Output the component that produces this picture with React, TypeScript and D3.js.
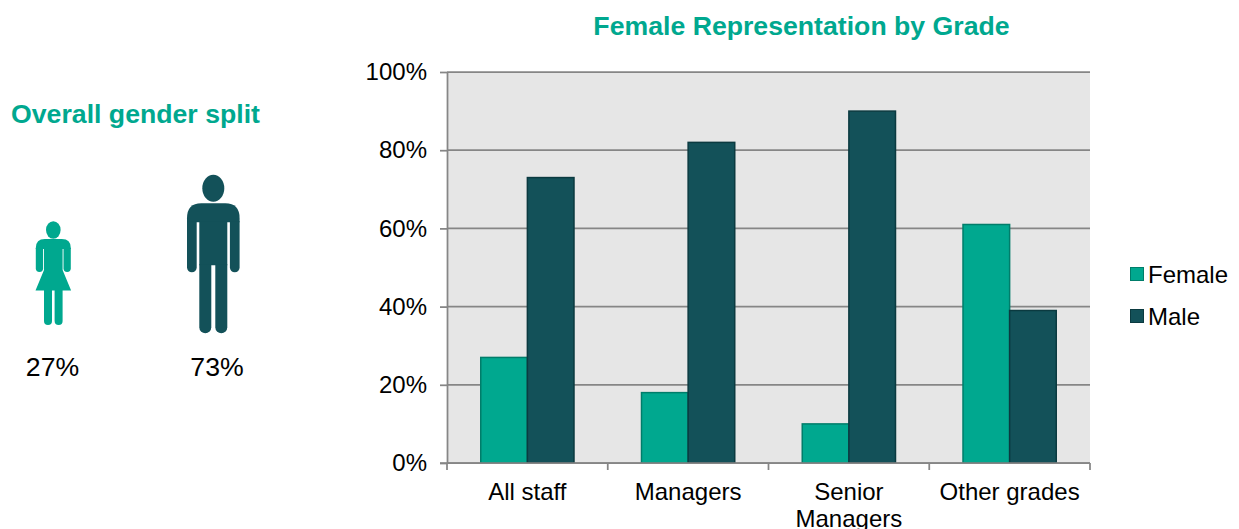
// App.tsx
import React, { useEffect, useRef } from 'react';
import * as d3 from 'd3';

const grades = ['All staff', 'Managers', 'Senior Managers', 'Other grades'];
const female = [27, 18, 10, 61];
const male = [73, 82, 90, 39];
const yTicks = [0, 20, 40, 60, 80, 100];
const seriesNames = ['Female', 'Male'];
const overall = [27, 73];

const width = 1239;
const height = 529;
const colors = {
  female: '#00a88f',
  femaleEdge: '#007d6a',
  male: '#135159',
  maleEdge: '#0b3a40',
  plot: '#e6e6e6',
  axis: '#868686',
  text: '#000000',
};
const font = '"Liberation Sans", Arial, sans-serif';

// rounded-bottom limb, x0..x1 wide, from y0 down to y1
const limb = (x0: number, x1: number, y0: number, y1: number) => {
  const r = (x1 - x0) / 2;
  return `M${x0},${y0}L${x0},${y1 - r}A${r},${r} 0 0 0 ${x1},${y1 - r}L${x1},${y0}Z`;
};

// local coordinates, origin at the figure's centre line, top of shoulders
const femaleBody = [
  'M-17.5,9Q-17.5,0 -8.5,0L8.5,0Q17.5,0 17.5,9L17.5,10L-17.5,10Z',
  'M-9.3,9L9.3,9L9.3,31L17.8,51.5L-17.8,51.5L-9.3,31Z',
  limb(-17.5, -10.2, 9, 33),
  limb(10.2, 17.5, 9, 33),
  limb(-9.3, -1.3, 50, 86),
  limb(1.3, 9.3, 50, 86),
];

const maleBody = [
  'M-26.3,15Q-26.3,0 -12,0L12,0Q26.3,0 26.3,15L26.3,19L-26.3,19Z',
  'M-14,18L14,18L14,62L-14,62Z',
  limb(-26.3, -16.6, 18, 69),
  limb(16.6, 26.3, 18, 69),
  limb(-14, -2, 61, 130),
  limb(2, 14, 61, 130),
];

export default function App() {
  const svgRef = useRef<SVGSVGElement>(null);

  useEffect(() => {
    if (!svgRef.current) return;
    const svg = d3.select(svgRef.current);
    svg.selectAll('*').remove();

    const margin = { top: 72, right: 149, bottom: 66, left: 447 };
    const iWidth = width - margin.left - margin.right;
    const iHeight = height - margin.top - margin.bottom;

    const x = d3.scaleBand<string>().domain(grades).range([0, iWidth]).paddingInner(0.42).paddingOuter(0.21);
    const y = d3.scaleLinear().domain([0, 100]).range([iHeight, 0]);

    svg.append('text').attr('x', 801.5).attr('y', 35).attr('text-anchor', 'middle').attr('fill', colors.female)
      .style('font-family', font).style('font-weight', 'bold').style('font-size', '26.67px').text('Female Representation by Grade');
    svg.append('text').attr('x', 135.5).attr('y', 123).attr('text-anchor', 'middle').attr('fill', colors.female)
      .style('font-family', font).style('font-weight', 'bold').style('font-size', '26.67px').text('Overall gender split');

    // figures
    const fig = svg.append('g');
    const fg = fig.append('g').attr('transform', 'translate(53.3,239)').attr('fill', colors.female);
    fg.append('ellipse').attr('cx', 0).attr('cy', -9).attr('rx', 7.3).attr('ry', 8.7);
    fg.selectAll('path').data(femaleBody).join('path').attr('d', d => d);
    const mg = fig.append('g').attr('transform', 'translate(213.3,203.3)').attr('fill', colors.male);
    mg.append('ellipse').attr('cx', 0).attr('cy', -15).attr('rx', 11).attr('ry', 13.5);
    mg.selectAll('path').data(maleBody).join('path').attr('d', d => d);

    fig.append('text').attr('x', 52.5).attr('y', 376).text(`${overall[0]}%`);
    fig.append('text').attr('x', 217).attr('y', 376).text(`${overall[1]}%`);
    fig.selectAll('text').attr('text-anchor', 'middle').attr('fill', colors.text)
      .style('font-family', font).style('font-size', '26.67px');

    const g = svg.append('g').attr('transform', `translate(${margin.left},${margin.top})`);
    g.append('rect').attr('width', iWidth).attr('height', iHeight).attr('fill', colors.plot);

    // gridlines
    g.append('g').selectAll('line').data(yTicks).join('line')
      .attr('x1', 0).attr('x2', iWidth).attr('y1', d => y(d)).attr('y2', d => y(d))
      .attr('stroke', colors.axis).attr('stroke-width', 1.75);

    // bars
    const barW = x.bandwidth() / 2;
    const bars = (vals: number[], fill: string, edge: string, off: number) => {
      g.append('g').selectAll('rect').data(vals).join('rect')
        .attr('x', (_, i) => (x(grades[i]) as number) + off)
        .attr('y', d => y(d))
        .attr('width', barW)
        .attr('height', d => iHeight - y(d))
        .attr('fill', fill).attr('stroke', edge).attr('stroke-width', 1.5);
    };
    bars(female, colors.female, colors.femaleEdge, 0);
    bars(male, colors.male, colors.maleEdge, barW);

    // axes
    const yAxis = d3.axisLeft(y).tickValues(yTicks).tickFormat(d => `${d}%`).tickSize(7).tickPadding(13).tickSizeOuter(0);
    const yg = g.append('g').call(yAxis);
    yg.select('.domain').attr('stroke', colors.axis).attr('stroke-width', 1.75);
    yg.selectAll('.tick line').attr('stroke', colors.axis).attr('stroke-width', 1.75);
    yg.selectAll('text').attr('fill', colors.text).style('font-family', font).style('font-size', '24px');

    const step = iWidth / grades.length;
    const xg = g.append('g').attr('transform', `translate(0,${iHeight})`);
    xg.append('line').attr('x1', -7).attr('x2', iWidth).attr('stroke', colors.axis).attr('stroke-width', 1.75);
    xg.selectAll('line.sep').data(d3.range(grades.length + 1)).join('line').attr('class', 'sep')
      .attr('x1', d => d * step).attr('x2', d => d * step).attr('y1', 0).attr('y2', 7)
      .attr('stroke', colors.axis).attr('stroke-width', 1.75);

    const labels = xg.selectAll('text').data(grades).join('text')
      .attr('text-anchor', 'middle').attr('fill', colors.text)
      .style('font-family', font).style('font-size', '24px');
    labels.each(function (d) {
      const cx = (x(d) as number) + x.bandwidth() / 2;
      const parts = d === 'Senior Managers' ? d.split(' ') : [d];
      d3.select(this).selectAll('tspan').data(parts).join('tspan')
        .attr('x', cx).attr('y', (_, i) => 37 + i * 27).text(t => t);
    });

    // legend
    const leg = svg.append('g').attr('transform', 'translate(1130,267)');
    const legFill = [colors.female, colors.male];
    const legEdge = [colors.femaleEdge, colors.maleEdge];
    seriesNames.forEach((name, i) => {
      const row = leg.append('g').attr('transform', `translate(0,${i * 42})`);
      row.append('rect').attr('x', 0.5).attr('y', 0.5).attr('width', 13).attr('height', 13)
        .attr('fill', legFill[i]).attr('stroke', legEdge[i]);
      row.append('text').attr('x', 18).attr('y', 16).attr('fill', colors.text)
        .style('font-family', font).style('font-size', '24px').text(name);
    });
  }, []);

  return <svg ref={svgRef} width={width} height={height} viewBox={`0 0 ${width} ${height}`} style={{ position: 'absolute', left: 0, top: 0, background: '#fff' }} />;
}
